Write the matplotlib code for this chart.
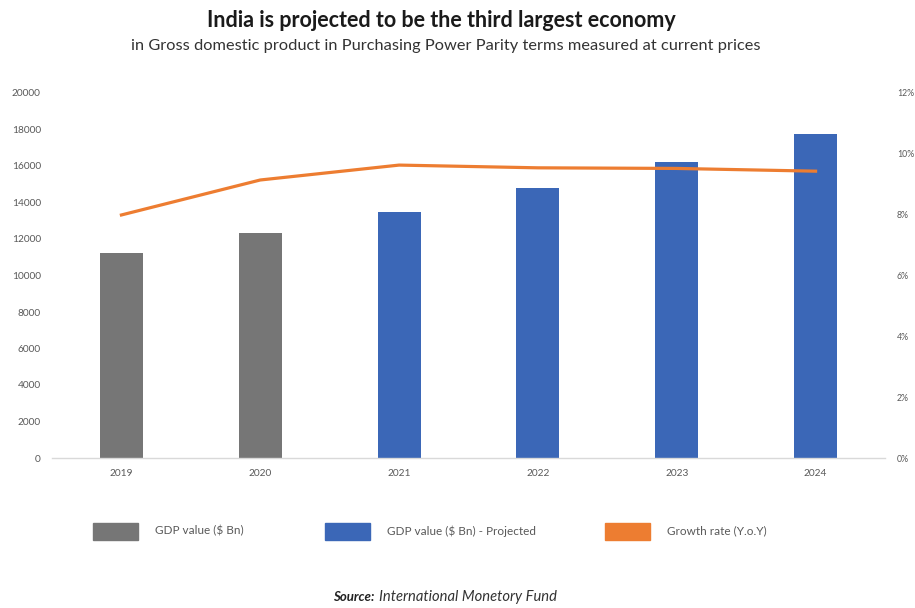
import matplotlib
matplotlib.use("Agg")
import matplotlib.pyplot as plt
from matplotlib.patches import Rectangle
from matplotlib.ticker import FuncFormatter

years = ["2019", "2020", "2021", "2022", "2023", "2024"]
gdp_actual = [11233, 12329, None, None, None, None]
gdp_projected = [None, None, 13479, 14795, 16219, 17753]
growth_rate = [7.99, 9.14, 9.63, 9.54, 9.52, 9.43]
left_ticks = [0, 2000, 4000, 6000, 8000, 10000, 12000, 14000, 16000, 18000, 20000]
right_ticks = [0, 2, 4, 6, 8, 10, 12]

GRAY = "#767676"
BLUE = "#3B67B7"
ORANGE = "#ED7D31"
TXT = "#595959"
FONT = "Lato"

fig = plt.figure(figsize=(9.15, 6.08), dpi=100)
ax = fig.add_axes([52/915, 150/608, 833/915, 365/608])
x = list(range(len(years)))
w = 0.31
for i, v in enumerate(gdp_actual):
    if v is not None:
        ax.bar(i, v, width=w, color=GRAY, zorder=2)
for i, v in enumerate(gdp_projected):
    if v is not None:
        ax.bar(i, v, width=w, color=BLUE, zorder=2)
ax.set_xlim(-0.5, len(years) - 0.5)
ax.set_ylim(0, 20000)
ax.set_yticks(left_ticks)
ax.set_xticks(x)
ax.set_xticklabels(years)
for s in ["top", "right", "left"]:
    ax.spines[s].set_visible(False)
ax.spines["bottom"].set_color("#d9d9d9")
ax.spines["bottom"].set_linewidth(1)
ax.tick_params(axis="both", length=0, labelsize=7.3, colors=TXT)
ax.tick_params(axis="y", pad=8)
ax.tick_params(axis="x", pad=8)
for lab in ax.get_xticklabels() + ax.get_yticklabels():
    lab.set_fontfamily(FONT)

ax2 = ax.twinx()
ax2.plot(x, growth_rate, color=ORANGE, linewidth=2.3, zorder=3)
ax2.set_ylim(0, 12)
ax2.set_yticks(right_ticks)
ax2.yaxis.set_major_formatter(FuncFormatter(lambda v, p: f"{int(v)}%"))
for s in ["top", "right", "left", "bottom"]:
    ax2.spines[s].set_visible(False)
ax2.tick_params(axis="y", length=0, labelsize=6.3, colors=TXT, pad=8.5)
for lab in ax2.get_yticklabels():
    lab.set_fontfamily(FONT)

fig.text(0.482, 0.967, "India is projected to be the third largest economy",
         ha="center", va="center", fontsize=15.5, fontweight="bold",
         family=FONT, color="#1a1a1a")
fig.text(0.487, 0.924, "in Gross domestic product in Purchasing Power Parity terms measured at current prices",
         ha="center", va="center", fontsize=11.8, family=FONT, color="#333333")

legend_items = [
    (93, GRAY, "GDP value ($ Bn)"),
    (325, BLUE, "GDP value ($ Bn) - Projected"),
    (605, ORANGE, "Growth rate (Y.o.Y)"),
]
for px, col, label in legend_items:
    fig.add_artist(Rectangle((px/915, (608-540)/608), 45/915, 17/608,
                             transform=fig.transFigure, color=col))
    fig.text((px + 62)/915, (608-531)/608, label, ha="left", va="center",
             fontsize=8.5, family=FONT, color=TXT)

fig.text(333/915, (608-597)/608, "Source:", ha="left", va="center",
         fontsize=9.5, fontweight="bold", style="italic", family=FONT, color="#222222")
fig.text(379/915, (608-597)/608, "International Monetory Fund", ha="left", va="center",
         fontsize=10.6, style="italic", family=FONT, color="#333333")

fig.savefig("out.png", dpi=100, facecolor="white")
